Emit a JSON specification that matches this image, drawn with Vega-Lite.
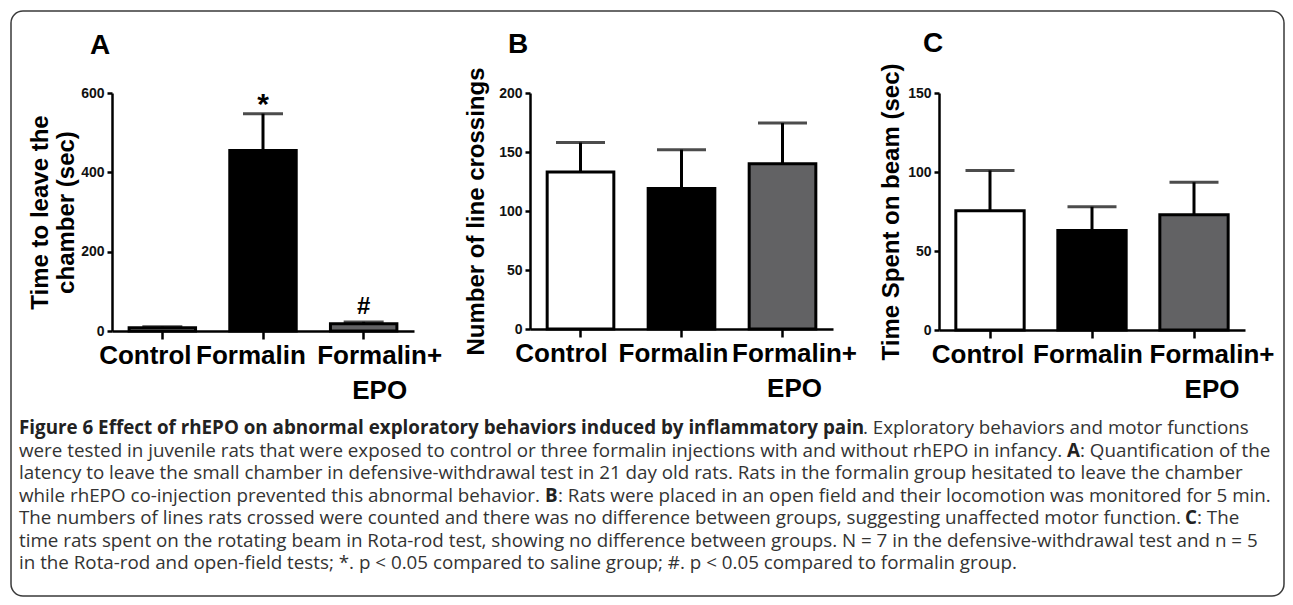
{
  "$schema": "https://vega.github.io/schema/vega-lite/v6.json",
  "background": "white",
  "padding": {"left": 10, "top": 10, "right": 10, "bottom": 10},
  "spacing": -1172,
  "bounds": "flush",
  "align": "none",
  "datasets": {
    "bars": [
      {"panel": "A", "group": "Control", "mean": 8, "upper": 11, "sig": ""},
      {"panel": "A", "group": "Formalin", "mean": 455, "upper": 548, "sig": "*"},
      {"panel": "A", "group": "Formalin+EPO", "mean": 18, "upper": 23, "sig": "#"},
      {"panel": "B", "group": "Control", "mean": 133, "upper": 158, "sig": ""},
      {"panel": "B", "group": "Formalin", "mean": 119, "upper": 152, "sig": ""},
      {"panel": "B", "group": "Formalin+EPO", "mean": 140, "upper": 174.5, "sig": ""},
      {"panel": "C", "group": "Control", "mean": 75.5, "upper": 101, "sig": ""},
      {"panel": "C", "group": "Formalin", "mean": 63, "upper": 78, "sig": ""},
      {"panel": "C", "group": "Formalin+EPO", "mean": 73, "upper": 93.5, "sig": ""}
    ],
    "caption": [
      {"line": 1, "seg": "lead", "text": "Figure 6 Effect of rhEPO on abnormal exploratory behaviors induced by inflammatory pain"},
      {"line": 1, "seg": "t1", "text": ". Exploratory behaviors and motor functions"},
      {"line": 2, "seg": "main", "text": "were tested in juvenile rats that were exposed to control or three formalin injections with and without rhEPO in infancy."},
      {"line": 2, "seg": "bA", "text": "A"},
      {"line": 2, "seg": "tA", "text": ": Quantification of the"},
      {"line": 3, "seg": "main", "text": "latency to leave the small chamber in defensive-withdrawal test in 21 day old rats. Rats in the formalin group hesitated to leave the chamber"},
      {"line": 4, "seg": "main", "text": "while rhEPO co-injection prevented this abnormal behavior."},
      {"line": 4, "seg": "bB", "text": "B"},
      {"line": 4, "seg": "tB", "text": ": Rats were placed in an open field and their locomotion was monitored for 5 min."},
      {"line": 5, "seg": "main", "text": "The numbers of lines rats crossed were counted and there was no difference between groups, suggesting unaffected motor function."},
      {"line": 5, "seg": "bC", "text": "C"},
      {"line": 5, "seg": "tC", "text": ": The"},
      {"line": 6, "seg": "main", "text": "time rats spent on the rotating beam in Rota-rod test, showing no difference between groups. N = 7 in the defensive-withdrawal test and n = 5"},
      {"line": 7, "seg": "main", "text": "in the Rota-rod and open-field tests; *. p < 0.05 compared to saline group; #. p < 0.05 compared to formalin group."}
    ]
  },
  "hconcat": [
    {
      "width": 1273,
      "height": 585,
      "view": {"stroke": "#3a3a3a", "strokeWidth": 1.5, "cornerRadius": 12, "fill": null},
      "data": {"name": "caption"},
      "encoding": {
        "x": {"value": 8},
        "y": {"field": "line", "type": "quantitative", "scale": {"domain": [-17.8, 8.2], "reverse": true, "zero": false, "nice": false}, "axis": null},
        "text": {"field": "text", "type": "nominal"}
      },
      "layer": [
        {"transform": [{"filter": "datum.seg == 'main'"}], "mark": {"type": "text", "font": "Open Sans", "fontSize": 18.8, "color": "#333333", "align": "left", "baseline": "alphabetic"}},
        {"transform": [{"filter": "datum.seg == 'lead'"}], "mark": {"type": "text", "font": "Open Sans", "fontSize": 18.8, "fontWeight": "bold", "color": "#222222", "align": "left", "baseline": "alphabetic"}},
        {"transform": [{"filter": "datum.seg == 't1'"}], "mark": {"type": "text", "font": "Open Sans", "fontSize": 18.8, "color": "#333333", "align": "left", "baseline": "alphabetic", "dx": 844}},
        {"transform": [{"filter": "datum.seg == 'bA'"}], "mark": {"type": "text", "font": "Open Sans", "fontSize": 18.8, "fontWeight": "bold", "color": "#222222", "align": "left", "baseline": "alphabetic", "dx": 1048}},
        {"transform": [{"filter": "datum.seg == 'tA'"}], "mark": {"type": "text", "font": "Open Sans", "fontSize": 18.8, "color": "#333333", "align": "left", "baseline": "alphabetic", "dx": 1061}},
        {"transform": [{"filter": "datum.seg == 'bB'"}], "mark": {"type": "text", "font": "Open Sans", "fontSize": 18.8, "fontWeight": "bold", "color": "#222222", "align": "left", "baseline": "alphabetic", "dx": 526}},
        {"transform": [{"filter": "datum.seg == 'tB'"}], "mark": {"type": "text", "font": "Open Sans", "fontSize": 18.8, "color": "#333333", "align": "left", "baseline": "alphabetic", "dx": 539}},
        {"transform": [{"filter": "datum.seg == 'bC'"}], "mark": {"type": "text", "font": "Open Sans", "fontSize": 18.8, "fontWeight": "bold", "color": "#222222", "align": "left", "baseline": "alphabetic", "dx": 1166}},
        {"transform": [{"filter": "datum.seg == 'tC'"}], "mark": {"type": "text", "font": "Open Sans", "fontSize": 18.8, "color": "#333333", "align": "left", "baseline": "alphabetic", "dx": 1178}}
      ]
    },
    {
      "bounds": "flush",
      "align": "none",
      "spacing": 81,
      "vconcat": [
        {
          "width": 1,
          "height": 1,
          "data": {"values": []},
          "mark": {"type": "point"},
          "encoding": {}
        },
        {
          "spacing": 22,
          "align": "each",
          "hconcat": [
            {
              "width": 302,
              "height": 238,
              "title": {"text": "A", "anchor": "start", "frame": "group", "font": "Liberation Sans", "fontSize": 28, "fontWeight": "bold", "color": "black", "baseline": "alphabetic", "offset": 4, "dx": -22},
              "data": {"name": "bars"},
              "transform": [{"filter": "datum.panel == 'A'"}],
              "encoding": {
                "x": {
                  "field": "group", "type": "nominal", "sort": ["Control", "Formalin", "Formalin+EPO"],
                  "scale": {"paddingInner": 0.34, "paddingOuter": 0.17},
                  "axis": {"title": null, "labelExpr": "datum.value == 'Formalin+EPO' ? ['Formalin+', 'EPO'] : datum.value", "labelOffset": {"expr": "datum.value == 'Control' ? -17 : datum.value == 'Formalin' ? -12 : 16"}}
                }
              },
              "layer": [
                {
                  "mark": {"type": "bar", "stroke": "black", "strokeWidth": 3},
                  "encoding": {
                    "y": {"field": "mean", "type": "quantitative", "scale": {"domain": [0, 600], "nice": false}, "axis": {"values": [0, 200, 400, 600], "title": ["Time to leave the", "chamber (sec)"], "titlePadding": 2}},
                    "fill": {"field": "group", "type": "nominal", "scale": {"domain": ["Control", "Formalin", "Formalin+EPO"], "range": ["white", "black", "#626264"]}, "legend": null}
                  }
                },
                {"mark": {"type": "rule", "strokeWidth": 3, "color": "black"}, "encoding": {"y": {"field": "mean", "type": "quantitative"}, "y2": {"field": "upper"}}},
                {"mark": {"type": "tick", "thickness": 3, "size": 40, "color": "black"}, "encoding": {"y": {"field": "upper", "type": "quantitative"}}},
                {"transform": [{"filter": "datum.sig == '*'"}], "mark": {"type": "text", "font": "Liberation Sans", "fontSize": 30, "fontWeight": "bold", "color": "black", "baseline": "alphabetic", "dy": 0}, "encoding": {"y": {"field": "upper", "type": "quantitative"}, "text": {"field": "sig"}}},
                {"transform": [{"filter": "datum.sig == '#'"}], "mark": {"type": "text", "font": "Liberation Sans", "fontSize": 24, "fontWeight": "bold", "color": "black", "baseline": "alphabetic", "dy": -8}, "encoding": {"y": {"field": "upper", "type": "quantitative"}, "text": {"field": "sig"}}}
              ]
            },
            {
              "width": 303,
              "height": 236,
              "title": {"text": "B", "anchor": "start", "frame": "group", "font": "Liberation Sans", "fontSize": 28, "fontWeight": "bold", "color": "black", "baseline": "alphabetic", "offset": -14, "dx": -22},
              "data": {"name": "bars"},
              "transform": [{"filter": "datum.panel == 'B'"}],
              "encoding": {
                "x": {
                  "field": "group", "type": "nominal", "sort": ["Control", "Formalin", "Formalin+EPO"],
                  "scale": {"paddingInner": 0.34, "paddingOuter": 0.17},
                  "axis": {"title": null, "labelExpr": "datum.value == 'Formalin+EPO' ? ['Formalin+', 'EPO'] : datum.value", "labelOffset": {"expr": "datum.value == 'Control' ? -19 : datum.value == 'Formalin' ? -8 : 12"}}
                }
              },
              "layer": [
                {
                  "mark": {"type": "bar", "stroke": "black", "strokeWidth": 3},
                  "encoding": {
                    "y": {"field": "mean", "type": "quantitative", "scale": {"domain": [0, 200], "nice": false}, "axis": {"values": [0, 50, 100, 150, 200], "title": "Number of line crossings", "titlePadding": 10}},
                    "fill": {"field": "group", "type": "nominal", "scale": {"domain": ["Control", "Formalin", "Formalin+EPO"], "range": ["white", "black", "#626264"]}, "legend": null}
                  }
                },
                {"mark": {"type": "rule", "strokeWidth": 3, "color": "black"}, "encoding": {"y": {"field": "mean", "type": "quantitative"}, "y2": {"field": "upper"}}},
                {"mark": {"type": "tick", "thickness": 3, "size": 49, "color": "black"}, "encoding": {"y": {"field": "upper", "type": "quantitative"}}}
              ]
            },
            {
              "width": 306,
              "height": 237,
              "title": {"text": "C", "anchor": "start", "frame": "group", "font": "Liberation Sans", "fontSize": 28, "fontWeight": "bold", "color": "black", "baseline": "alphabetic", "offset": -17, "dx": -16},
              "data": {"name": "bars"},
              "transform": [{"filter": "datum.panel == 'C'"}],
              "encoding": {
                "x": {
                  "field": "group", "type": "nominal", "sort": ["Control", "Formalin", "Formalin+EPO"],
                  "scale": {"paddingInner": 0.33, "paddingOuter": 0.165},
                  "axis": {"title": null, "labelExpr": "datum.value == 'Formalin+EPO' ? ['Formalin+', 'EPO'] : datum.value", "labelOffset": {"expr": "datum.value == 'Control' ? -12 : datum.value == 'Formalin' ? -4 : 18"}}
                }
              },
              "layer": [
                {
                  "mark": {"type": "bar", "stroke": "black", "strokeWidth": 3},
                  "encoding": {
                    "y": {"field": "mean", "type": "quantitative", "scale": {"domain": [0, 150], "nice": false}, "axis": {"values": [0, 50, 100, 150], "title": "Time Spent on beam (sec)", "titlePadding": 4}},
                    "fill": {"field": "group", "type": "nominal", "scale": {"domain": ["Control", "Formalin", "Formalin+EPO"], "range": ["white", "black", "#626264"]}, "legend": null}
                  }
                },
                {"mark": {"type": "rule", "strokeWidth": 3, "color": "black"}, "encoding": {"y": {"field": "mean", "type": "quantitative"}, "y2": {"field": "upper"}}},
                {"mark": {"type": "tick", "thickness": 3, "size": 49, "color": "black"}, "encoding": {"y": {"field": "upper", "type": "quantitative"}}}
              ]
            }
          ]
        }
      ]
    }
  ],
  "config": {
    "view": {"stroke": null},
    "font": "Liberation Sans",
    "axis": {
      "domainColor": "black", "domainWidth": 2.5, "tickColor": "black", "tickWidth": 2.5,
      "labelColor": "#111111", "titleColor": "black", "grid": false,
      "labelFontWeight": "bold", "titleFontWeight": "bold", "titleFont": "Liberation Sans"
    },
    "axisX": {"tickSize": 8, "labelFont": "Liberation Sans", "labelFontSize": 26, "labelAngle": 0, "labelPadding": 3, "labelLineHeight": 35, "labelColor": "black"},
    "axisY": {"tickSize": 5, "labelFont": "Liberation Sans", "labelFontSize": 14, "labelPadding": 3, "titleFontSize": 24, "titleLineHeight": 26}
  }
}
